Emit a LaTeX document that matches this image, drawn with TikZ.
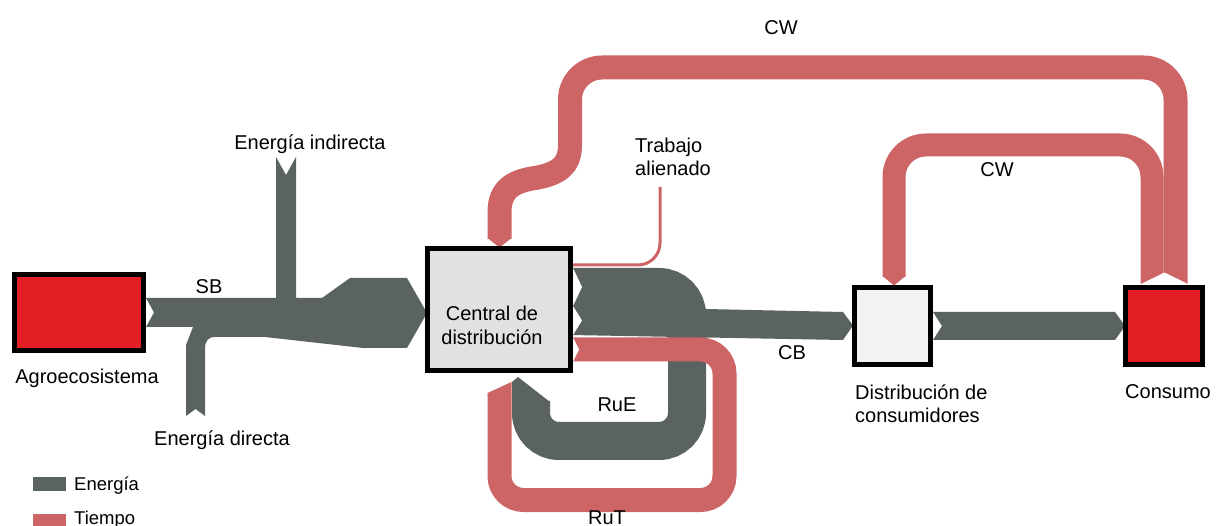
\documentclass[tikz,border=0pt]{standalone}
\usepackage{fontspec}
\setmainfont{Liberation Sans}
\definecolor{energia}{RGB}{90,99,96}
\definecolor{tiempo}{RGB}{205,101,102}
\definecolor{rojo}{RGB}{227,30,36}
\definecolor{griscentral}{RGB}{225,225,225}
\definecolor{grisdist}{RGB}{242,242,242}
\tikzset{
  caja/.style={draw=black, line width=5, inner sep=0, outer sep=0},
  lbl/.style={font=\fontsize{20}{23}\selectfont, inner sep=0},
  leyenda/.style={font=\fontsize{18.5}{22}\selectfont, inner sep=0, anchor=base west},
  flujoT/.style={draw=tiempo, line width=24},
}
\begin{document}
\begin{tikzpicture}[x=1pt,y=1pt,yscale=-1]
\useasboundingbox (0,0) rectangle (1216,526);

% CW bands (tiempo)
\draw[flujoT] (499.5,239) -- (499.5,212) .. controls (499.5,188) and (515,181) .. (535,178) .. controls (558,174) and (570,166) .. (570,145) [rounded corners=32] -- (570,67.5) -- (1175.5,67.5) -- (1175.5,284);
\fill[tiempo] (487.5,238) -- (511.5,238) -- (499.5,247.5) -- cycle;
\draw[flujoT, line width=23, rounded corners=32] (894,277) -- (894,145) -- (1152,145) -- (1152,284);
\fill[tiempo] (882.5,276) -- (905.5,276) -- (894,285.5) -- cycle;
\fill[white] (1140,284.5) -- (1164.5,272.5) -- (1189,284.5) -- cycle;

% SB with energia directa / indirecta
\fill[energia] (146,298) -- (276,298) -- (276,157) -- (286,175) -- (296,157) -- (296,298) -- (322,298) -- (350,278) -- (407,278) -- (427,313) -- (407,348) -- (363,348) -- (265,337) -- (215,337) .. controls (208,337) and (205,341) .. (205,349) -- (205,416) -- (195.5,409) -- (186,416) -- (186,345) -- (193,327) -- (146,327) -- (154,312.5) -- cycle;

% RuE loop
\draw[energia, line width=38, rounded corners=28] (570,287) -- (687,287) -- (687,441) -- (531,441) -- (531,401);
\fill[energia] (512,402) -- (512,382) -- (518,377) -- (550,402) -- cycle;

% CB and band to Consumo
\fill[energia] (570,300) -- (700,300) -- (706,309) -- (843,312) -- (853,325.5) -- (843,340) -- (570,335) -- cycle;
\fill[energia] (933,312) -- (1115,312) -- (1125,326) -- (1115,340) -- (933,340) -- (942,326) -- cycle;

% RuT loop
\draw[flujoT, rounded corners=24] (570,349.5) -- (724.5,349.5) -- (724.5,500) -- (499.5,500) -- (499.5,395);
\fill[tiempo] (487.5,396) -- (487.5,393) -- (511.5,382) -- (511.5,396) -- cycle;

% Trabajo alienado
\draw[tiempo, line width=3, rounded corners=22] (660,187) -- (660,265) -- (570,265);

% tails at central
\fill[white] (573,268) -- (582,287) -- (573,306) -- cycle;
\fill[white] (573,306) -- (582,320.5) -- (573,335) -- cycle;
\fill[white] (573,337.5) -- (579,349.5) -- (573,361.5) -- cycle;

% boxes
\node[caja, fill=rojo, minimum width=129, minimum height=76] (agro) at (79,312.5) {};
\node[caja, fill=griscentral, minimum width=143, minimum height=122] (central) at (499,309.5) {};
\node[caja, fill=grisdist, minimum width=76, minimum height=77] (distrib) at (892.5,326) {};
\node[caja, fill=rojo, minimum width=77, minimum height=77] (consumo) at (1164,326) {};

% labels
\node[lbl, anchor=base] (lagro) at (87,384) {Agroecosistema};
\node[lbl, anchor=base] (lsb) at (209,294) {SB};
\node[lbl, anchor=base] (lind) at (310,150) {Energía indirecta};
\node[lbl, anchor=base] (ldir) at (222,446) {Energía directa};
\node[lbl, anchor=north, align=center, font=\fontsize{20}{24}\selectfont] (lcentral) at (492,305.5) {Central de\\distribución};
\node[lbl, anchor=north west, align=left] (ltrab) at (635,137.5) {Trabajo\\alienado};
\node[lbl, anchor=base] (lcw1) at (781,35) {CW};
\node[lbl, anchor=base] (lcw2) at (997,177) {CW};
\node[lbl, anchor=base] (lcb) at (792,360) {CB};
\node[lbl, anchor=base] (lrue) at (617,412) {RuE};
\node[lbl, anchor=base] (lrut) at (607,524) {RuT};
\node[lbl, anchor=north west, align=left] (ldist) at (855,384.5) {Distribución de\\consumidores};
\node[lbl, anchor=base west] (lcons) at (1125,399) {Consumo};

% legend
\fill[energia] (33,477) rectangle (66,491);
\node[leyenda] (lenergia) at (74,490.5) {Energía};
\fill[tiempo] (33,514) rectangle (66,527);
\node[leyenda] (ltiempo) at (74,524.5) {Tiempo};
\end{tikzpicture}
\end{document}
